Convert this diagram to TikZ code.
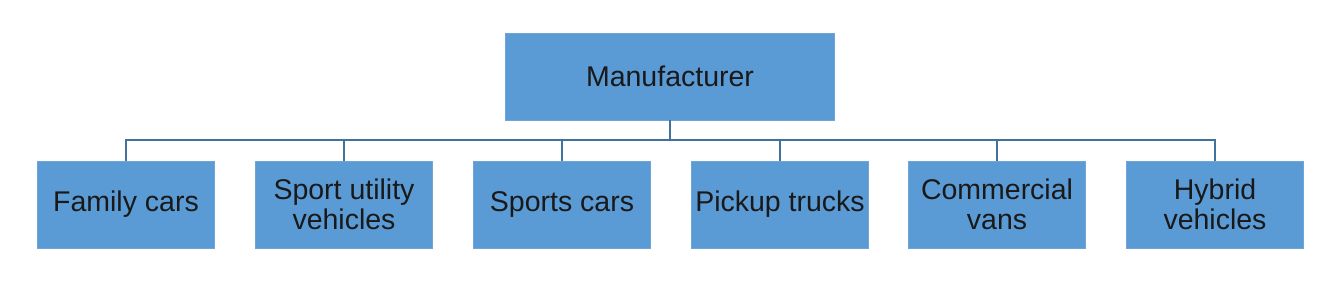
\documentclass[tikz,border=0pt]{standalone}
\usepackage{fontspec}
\setmainfont{Liberation Sans}
\definecolor{boxfill}{HTML}{5B9BD5}
\definecolor{boxline}{HTML}{6FA6D8}
\definecolor{conn}{HTML}{41719C}
\begin{document}
\begin{tikzpicture}[x=1pt,y=-1pt,
  box/.style={draw=boxline,line width=0.8pt,fill=boxfill,minimum height=87pt,minimum width=177pt,
    inner sep=0pt,align=center,font=\fontsize{28.5}{30}\selectfont,text=black!90},
  conline/.style={draw=conn,line width=2pt}]
\useasboundingbox (0,0) rectangle (1338,282);
\node[box,minimum width=329pt] (m) at (670,76.5) {Manufacturer};
\node[box] (c1) at (126,204.5) {Family cars};
\node[box] (c2) at (344,204.5) {Sport utility\\vehicles};
\node[box] (c3) at (562,204.5) {Sports cars};
\node[box] (c4) at (780,204.5) {Pickup trucks};
\node[box] (c5) at (997,204.5) {Commercial\\vans};
\node[box] (c6) at (1215,204.5) {Hybrid\\vehicles};
\coordinate (j) at (670,140);
\draw[conline] (m.south) -- (j);
\foreach \c in {c1,c2,c3,c4,c5,c6}{
  \draw[conline] (j) -| (\c.north);
}
\end{tikzpicture}
\end{document}
